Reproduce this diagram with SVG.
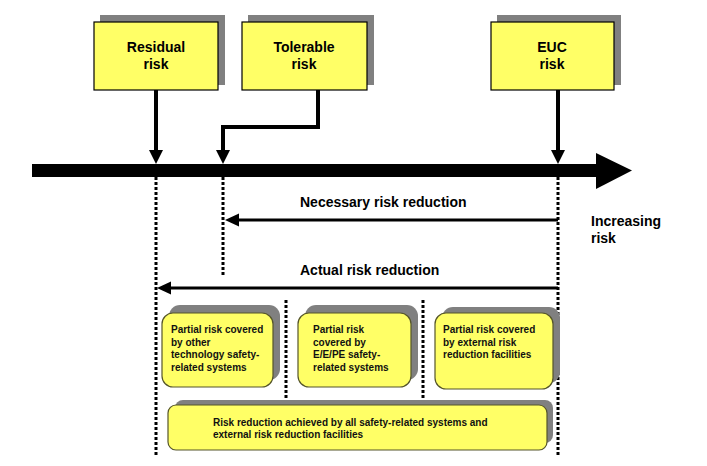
<svg xmlns="http://www.w3.org/2000/svg" width="707" height="466" viewBox="0 0 707 466">
<style>
.shadow{fill:#808080}
.box{fill:#FFFF66;stroke:#000;stroke-width:1.2}
.rbox{fill:#FFFF66;stroke:#55552a;stroke-width:1.2}
.t{font-family:"Liberation Sans",Arial,sans-serif;font-weight:bold;fill:#000}
.big{font-size:14px}
.sm{font-size:10px;fill:#111}
.dot{stroke:#000;stroke-width:3;stroke-dasharray:3 2;fill:none}
.ln{stroke:#000;fill:none}
</style>
<rect width="707" height="466" fill="#fff"/>
<g id="connectors">
  <rect x="32" y="164" width="566" height="13" fill="#000"/>
  <polygon points="596,153 632,170.5 596,189" fill="#000"/>
  <line class="ln" x1="156" y1="90" x2="156" y2="152" stroke-width="4"/>
  <polygon points="149,150 163,150 156,164" fill="#000"/>
  <polyline class="ln" points="318,90 318,127 223,127 223,152" stroke-width="4"/>
  <polygon points="216,150 230,150 223,164" fill="#000"/>
  <line class="ln" x1="558" y1="90" x2="558" y2="152" stroke-width="4"/>
  <polygon points="551,150 565,150 558,164" fill="#000"/>
  <line class="dot" x1="156" y1="177" x2="156" y2="456"/>
  <line class="dot" x1="223" y1="177" x2="223" y2="276"/>
  <line class="dot" x1="558" y1="177" x2="558" y2="456"/>
  <line class="dot" x1="286" y1="300" x2="286" y2="398"/>
  <line class="dot" x1="423" y1="300" x2="423" y2="398"/>
  <line class="ln" x1="558" y1="220" x2="236" y2="220" stroke-width="3"/>
  <polygon points="225,220 239,213.5 239,226.5" fill="#000"/>
  <line class="ln" x1="558" y1="288" x2="168" y2="288" stroke-width="3"/>
  <polygon points="157,288 171,281.5 171,294.5" fill="#000"/>
  <text class="t big" x="300" y="207">Necessary risk reduction</text>
  <text class="t big" x="300" y="275">Actual risk reduction</text>
  <text class="t big" x="591" y="226">Increasing</text>
  <text class="t big" x="591" y="243">risk</text>
</g>
<g id="residual">
  <rect class="shadow" x="100" y="15" width="125" height="70"/>
  <rect class="box" x="94" y="22" width="124" height="68"/>
  <text class="t big" x="156" y="52" text-anchor="middle">Residual</text>
  <text class="t big" x="156" y="69" text-anchor="middle">risk</text>
</g>
<g id="tolerable">
  <rect class="shadow" x="248" y="15" width="126" height="70"/>
  <rect class="box" x="242" y="22" width="125" height="68"/>
  <text class="t big" x="304" y="52" text-anchor="middle">Tolerable</text>
  <text class="t big" x="304" y="69" text-anchor="middle">risk</text>
</g>
<g id="euc">
  <rect class="shadow" x="497" y="15" width="124" height="70"/>
  <rect class="box" x="491" y="22" width="123" height="68"/>
  <text class="t big" x="552" y="52" text-anchor="middle">EUC</text>
  <text class="t big" x="552" y="69" text-anchor="middle">risk</text>
</g>
<g id="partial-other">
  <rect class="shadow" x="169" y="305" width="111" height="75" rx="11"/>
  <rect class="rbox" x="162" y="313" width="111" height="74" rx="11"/>
  <text class="t sm" x="171" y="333">Partial risk covered</text>
  <text class="t sm" x="171" y="345.5">by other</text>
  <text class="t sm" x="171" y="358">technology safety-</text>
  <text class="t sm" x="171" y="370.5">related systems</text>
</g>
<g id="partial-eepe">
  <rect class="shadow" x="305" y="305" width="113" height="75" rx="11"/>
  <rect class="rbox" x="298" y="313" width="113" height="74" rx="11"/>
  <text class="t sm" x="313" y="333">Partial risk</text>
  <text class="t sm" x="313" y="345.5">covered by</text>
  <text class="t sm" x="313" y="358">E/E/PE safety-</text>
  <text class="t sm" x="313" y="370.5">related systems</text>
</g>
<g id="partial-external">
  <rect class="shadow" x="442" y="307" width="118" height="76" rx="11"/>
  <rect class="rbox" x="435" y="313" width="118" height="76" rx="11"/>
  <text class="t sm" x="443" y="333">Partial risk covered</text>
  <text class="t sm" x="443" y="345.5">by external risk</text>
  <text class="t sm" x="443" y="358">reduction facilities</text>
</g>
<g id="total">
  <rect class="shadow" x="175" y="400" width="378" height="43" rx="8"/>
  <rect class="rbox" x="168" y="405" width="379" height="45" rx="8"/>
  <text class="t sm" x="213" y="426">Risk reduction achieved by all safety-related systems and</text>
  <text class="t sm" x="213" y="438">external risk reduction facilities</text>
</g>
</svg>
